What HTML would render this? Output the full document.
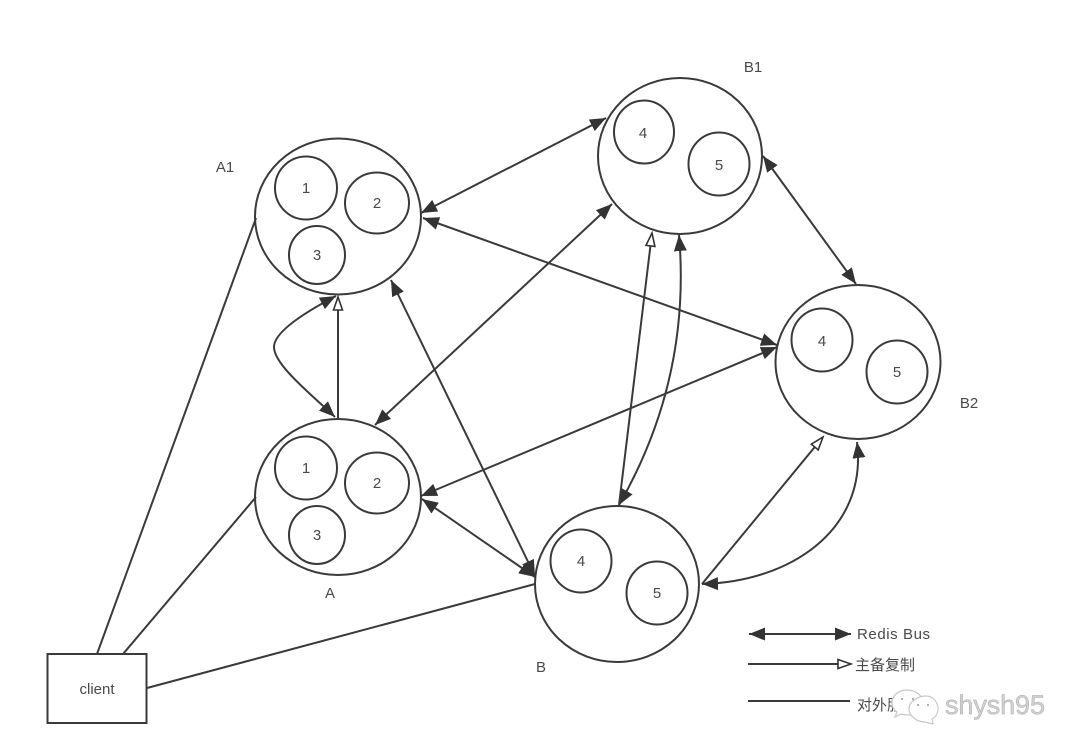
<!DOCTYPE html>
<html><head><meta charset="utf-8">
<style>
html,body{margin:0;padding:0;background:#fff;width:1080px;height:755px;overflow:hidden}
svg{display:block}
text{font-family:"Liberation Sans","Noto Sans CJK SC",sans-serif;font-size:15px;fill:#4a4a4a;text-anchor:middle}
.s{fill:none;stroke:#3a3a3a;stroke-width:2}
.n{fill:#fff;stroke:#3a3a3a;stroke-width:2}
</style></head><body>
<svg width="1080" height="755" viewBox="0 0 1080 755" xmlns="http://www.w3.org/2000/svg">
<defs>
<marker id="f" markerUnits="userSpaceOnUse" markerWidth="18" markerHeight="14" refX="16" refY="6.5" orient="auto-start-reverse"><path d="M0,0 L16,6.5 L0,13 Z" fill="#333"/></marker>
<marker id="o" markerUnits="userSpaceOnUse" markerWidth="16" markerHeight="12" refX="14" refY="5.5" orient="auto"><path d="M1,1 L14,5.5 L1,10 Z" fill="#fff" stroke="#333" stroke-width="1.600"/></marker>
</defs>

<!-- big nodes -->
<ellipse class="s" cx="338" cy="216.500" rx="83" ry="78"/>
<ellipse class="s" cx="338" cy="497" rx="83" ry="78"/>
<ellipse class="s" cx="680" cy="156" rx="82" ry="78"/>
<ellipse class="s" cx="858" cy="362" rx="82.500" ry="77"/>
<ellipse class="s" cx="617" cy="584" rx="82" ry="78"/>

<!-- inner nodes -->
<ellipse class="s" cx="306" cy="188" rx="31" ry="31.500"/>
<ellipse class="s" cx="377" cy="203" rx="32" ry="30.500"/>
<ellipse class="s" cx="317" cy="255" rx="28" ry="29"/>
<ellipse class="s" cx="306" cy="468" rx="31" ry="31.500"/>
<ellipse class="s" cx="377" cy="483" rx="32" ry="30.500"/>
<ellipse class="s" cx="317" cy="535" rx="28" ry="29"/>
<ellipse class="s" cx="644" cy="132" rx="30" ry="31.500"/>
<ellipse class="s" cx="719" cy="164" rx="30.500" ry="31.500"/>
<ellipse class="s" cx="822" cy="340" rx="30.500" ry="31.500"/>
<ellipse class="s" cx="897" cy="372" rx="30.500" ry="31.500"/>
<ellipse class="s" cx="581" cy="561" rx="30.500" ry="31.500"/>
<ellipse class="s" cx="657" cy="593" rx="30.500" ry="31.500"/>

<!-- double arrows -->
<path class="s" d="M421,213 L606,118" marker-start="url(#f)" marker-end="url(#f)"/>
<path class="s" d="M423,218 L777,345" marker-start="url(#f)" marker-end="url(#f)"/>
<path class="s" d="M375,425 L612,204" marker-start="url(#f)" marker-end="url(#f)"/>
<path class="s" d="M421,496 L777,347" marker-start="url(#f)" marker-end="url(#f)"/>
<path class="s" d="M391,280 L535,576" marker-start="url(#f)" marker-end="url(#f)"/>
<path class="s" d="M422,499 L535,577" marker-start="url(#f)" marker-end="url(#f)"/>
<path class="s" d="M763,156 L856,284" marker-start="url(#f)" marker-end="url(#f)"/>
<path class="s" d="M619,505 C662,430 688,340 679,235" marker-start="url(#f)" marker-end="url(#f)"/>
<path class="s" d="M702,584 C790,582 868,530 857,442" marker-start="url(#f)" marker-end="url(#f)"/>
<path class="s" d="M336,296 C315,307 274,330 274,347 C274,365 312,395 335,417" marker-start="url(#f)" marker-end="url(#f)"/>

<!-- open arrows -->
<path class="s" d="M338,418 L338,297" marker-end="url(#o)"/>
<path class="s" d="M619,505 L652,233" marker-end="url(#o)"/>
<path class="s" d="M702,584 L823,437" marker-end="url(#o)"/>

<!-- client lines -->
<path class="s" d="M256,218 L97,654"/>
<path class="s" d="M256,497 L123,654"/>
<path class="s" d="M535,584 L147,688"/>
<rect class="n" x="47.500" y="654" width="99" height="69"/>

<!-- legend -->
<path class="s" d="M749,634 L851,634" marker-start="url(#f)" marker-end="url(#f)"/>
<path class="s" d="M748,664 L851,664" marker-end="url(#o)"/>
<path class="s" d="M748,701 L850,701"/>

<!-- labels -->
<text x="97" y="694">client</text>
<text x="225" y="172">A1</text>
<text x="330" y="598">A</text>
<text x="753" y="72">B1</text>
<text x="969" y="408">B2</text>
<text x="541" y="672">B</text>
<text x="306" y="193">1</text><text x="377" y="208">2</text><text x="317" y="260">3</text>
<text x="306" y="473">1</text><text x="377" y="488">2</text><text x="317" y="540">3</text>
<text x="643" y="138">4</text><text x="719" y="170">5</text>
<text x="822" y="346">4</text><text x="897" y="377">5</text>
<text x="581" y="566">4</text><text x="657" y="598">5</text>
<text x="857" y="639" textLength="73" style="text-anchor:start">Redis Bus</text>
<text x="885" y="670">主备复制</text>
<text x="857" y="710" style="text-anchor:start">对外服</text>

<!-- watermark -->
<g fill="#fff" stroke="#c8c8c8" stroke-width="1.200">
<path d="M907,690 C898,690 892,696 892,703 C892,707 894,710 897,712 L895,717 L901,714 C904,715 906,715 908,715 C918,715 923,709 923,703 C923,696 916,690 907,690 Z"/>
<path d="M926,696 C917,696 909,702 909,709 C909,716 917,722 925,722 L933,724 L932,719 C936,717 938,713 938,709 C938,702 933,696 926,696 Z"/>
</g>
<g fill="#999"><circle cx="902" cy="699" r="1"/><circle cx="913" cy="699" r="1"/><circle cx="918" cy="705" r="1"/><circle cx="928" cy="705" r="1"/></g>
<text x="945" y="714" textLength="100" style="text-anchor:start;font-size:27px;fill:#d2d2d2;stroke:#aaa;stroke-width:.5">shysh95</text>
</svg>
</body></html>
